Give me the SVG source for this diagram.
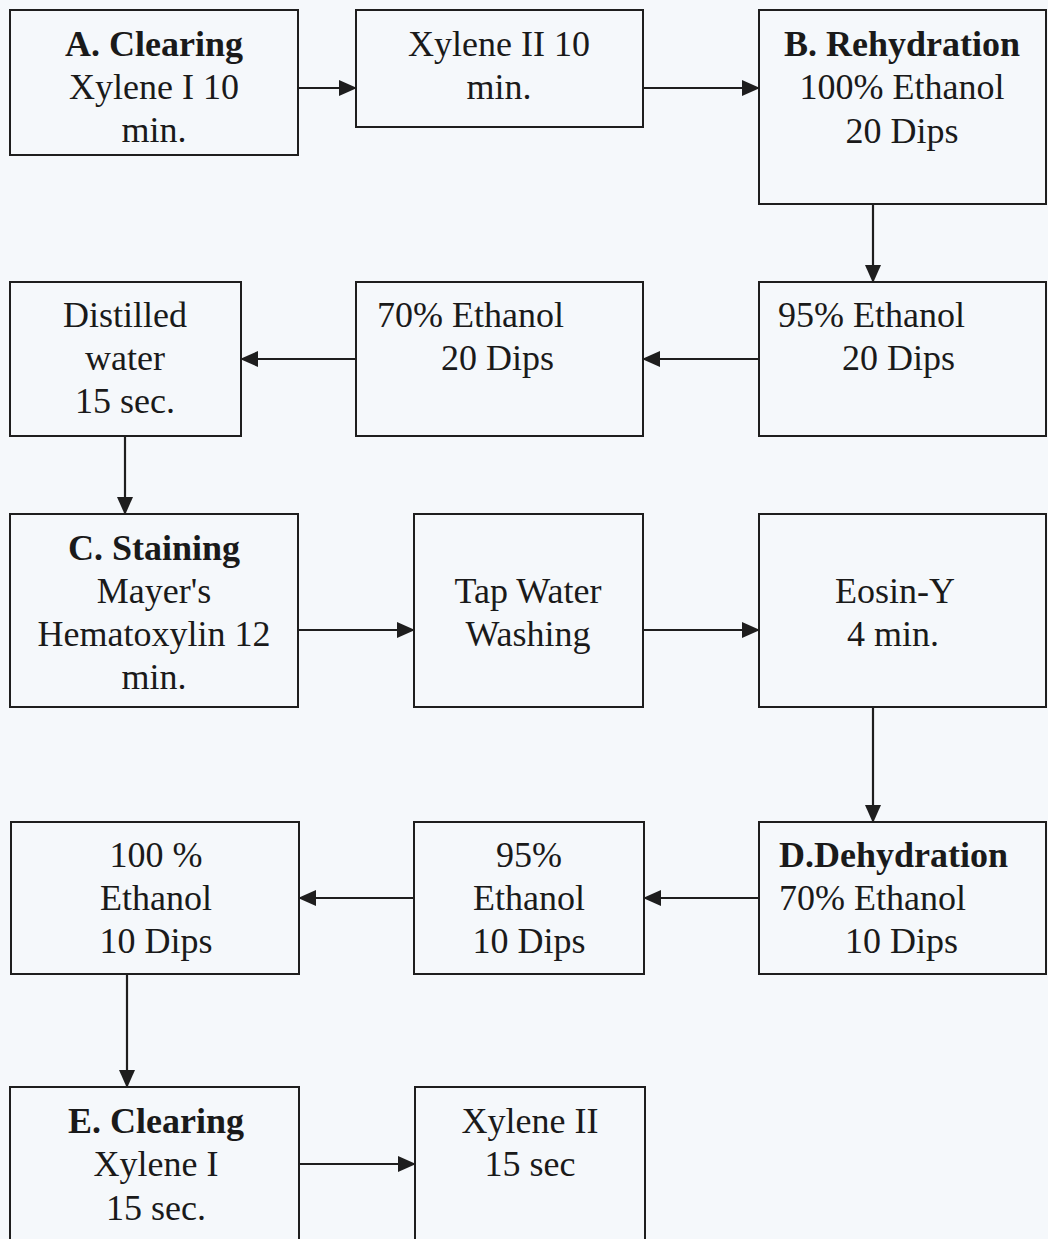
<svg xmlns="http://www.w3.org/2000/svg" width="1048" height="1239" viewBox="0 0 1048 1239">
<defs>
<style>
.box{fill:none;stroke:#1e1e1e;stroke-width:2}
.t{font-family:"Liberation Serif","Times New Roman",serif;font-size:36px;fill:#1a1a1a}
.c{text-anchor:middle}
.b{font-weight:bold}
.ln{fill:none;stroke:#1e1e1e;stroke-width:2.2}
</style>
<marker id="ah" viewBox="0 0 18 16" refX="17" refY="8" markerWidth="18" markerHeight="16" markerUnits="userSpaceOnUse" orient="auto">
<path d="M0,0 L18,8 L0,16 Z" fill="#1e1e1e"/>
</marker>
</defs>
<rect x="0" y="0" width="1048" height="1239" fill="#f5f8fb"/>
<g id="connectors">
<line class="ln" x1="298" y1="88" x2="356" y2="88" marker-end="url(#ah)"/>
<line class="ln" x1="643" y1="88" x2="759" y2="88" marker-end="url(#ah)"/>
<line class="ln" x1="873" y1="204" x2="873" y2="282" marker-end="url(#ah)"/>
<line class="ln" x1="759" y1="359" x2="643" y2="359" marker-end="url(#ah)"/>
<line class="ln" x1="356" y1="359" x2="241" y2="359" marker-end="url(#ah)"/>
<line class="ln" x1="125" y1="436" x2="125" y2="514" marker-end="url(#ah)"/>
<line class="ln" x1="298" y1="630" x2="414" y2="630" marker-end="url(#ah)"/>
<line class="ln" x1="643" y1="630" x2="759" y2="630" marker-end="url(#ah)"/>
<line class="ln" x1="873" y1="707" x2="873" y2="822" marker-end="url(#ah)"/>
<line class="ln" x1="759" y1="898" x2="644" y2="898" marker-end="url(#ah)"/>
<line class="ln" x1="414" y1="898" x2="299" y2="898" marker-end="url(#ah)"/>
<line class="ln" x1="127" y1="974" x2="127" y2="1087" marker-end="url(#ah)"/>
<line class="ln" x1="299" y1="1164" x2="415" y2="1164" marker-end="url(#ah)"/>
</g>
<g id="a-clearing">
<rect class="box" x="10" y="10" width="288" height="145"/>
<text class="t c b" x="154" y="56">A. Clearing</text>
<text class="t c" x="154" y="99">Xylene I 10</text>
<text class="t c" x="154" y="142">min.</text>
</g>
<g id="xylene2-10">
<rect class="box" x="356" y="10" width="287" height="117"/>
<text class="t c" x="499" y="56">Xylene II 10</text>
<text class="t c" x="499" y="99">min.</text>
</g>
<g id="b-rehydration">
<rect class="box" x="759" y="10" width="287" height="194"/>
<text class="t c b" x="902" y="56">B. Rehydration</text>
<text class="t c" x="902" y="99">100% Ethanol</text>
<text class="t c" x="902" y="143">20 Dips</text>
</g>
<g id="ethanol95-20">
<rect class="box" x="759" y="282" width="287" height="154"/>
<text class="t" x="778" y="327">95% Ethanol</text>
<text class="t" x="842" y="370">20 Dips</text>
</g>
<g id="ethanol70-20">
<rect class="box" x="356" y="282" width="287" height="154"/>
<text class="t" x="377" y="327">70% Ethanol</text>
<text class="t" x="441" y="370">20 Dips</text>
</g>
<g id="distilled-water">
<rect class="box" x="10" y="282" width="231" height="154"/>
<text class="t c" x="125" y="327">Distilled</text>
<text class="t c" x="125" y="370">water</text>
<text class="t c" x="125" y="413">15 sec.</text>
</g>
<g id="c-staining">
<rect class="box" x="10" y="514" width="288" height="193"/>
<text class="t c b" x="154" y="560">C. Staining</text>
<text class="t c" x="154" y="603">Mayer's</text>
<text class="t c" x="154" y="646">Hematoxylin 12</text>
<text class="t c" x="154" y="689">min.</text>
</g>
<g id="tap-water">
<rect class="box" x="414" y="514" width="229" height="193"/>
<text class="t c" x="528" y="603">Tap Water</text>
<text class="t c" x="528" y="646">Washing</text>
</g>
<g id="eosin">
<rect class="box" x="759" y="514" width="287" height="193"/>
<text class="t c" x="895" y="603">Eosin-Y</text>
<text class="t c" x="893" y="646">4 min.</text>
</g>
<g id="d-dehydration">
<rect class="box" x="759" y="822" width="287" height="152"/>
<text class="t b" x="779" y="867">D.Dehydration</text>
<text class="t" x="779" y="910">70% Ethanol</text>
<text class="t" x="845" y="953">10 Dips</text>
</g>
<g id="ethanol95-10">
<rect class="box" x="414" y="822" width="230" height="152"/>
<text class="t c" x="529" y="867">95%</text>
<text class="t c" x="529" y="910">Ethanol</text>
<text class="t c" x="529" y="953">10 Dips</text>
</g>
<g id="ethanol100-10">
<rect class="box" x="11" y="822" width="288" height="152"/>
<text class="t c" x="156" y="867">100 %</text>
<text class="t c" x="156" y="910">Ethanol</text>
<text class="t c" x="156" y="953">10 Dips</text>
</g>
<g id="e-clearing">
<rect class="box" x="10" y="1087" width="289" height="170"/>
<text class="t c b" x="156" y="1133">E. Clearing</text>
<text class="t c" x="156" y="1176">Xylene I</text>
<text class="t c" x="156" y="1220">15 sec.</text>
</g>
<g id="xylene2-15">
<rect class="box" x="415" y="1087" width="230" height="170"/>
<text class="t c" x="530" y="1133">Xylene II</text>
<text class="t c" x="530" y="1176">15 sec</text>
</g>
</svg>
